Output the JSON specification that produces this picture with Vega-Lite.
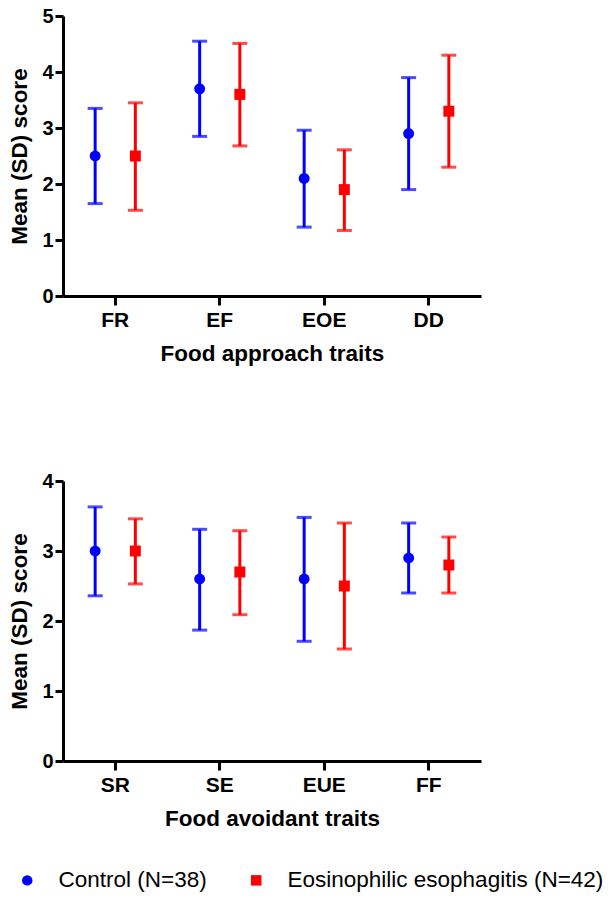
{
  "$schema": "https://vega.github.io/schema/vega-lite/v6.json",
  "background": "white",
  "padding": {"left": 8, "top": 6, "right": 5, "bottom": 5},
  "datasets": {
    "approach": [
      {"trait": "FR", "group": "Control (N=38)", "mean": 2.5, "lo": 1.65, "hi": 3.35},
      {"trait": "FR", "group": "Eosinophilic esophagitis (N=42)", "mean": 2.5, "lo": 1.53, "hi": 3.45},
      {"trait": "EF", "group": "Control (N=38)", "mean": 3.7, "lo": 2.85, "hi": 4.55},
      {"trait": "EF", "group": "Eosinophilic esophagitis (N=42)", "mean": 3.6, "lo": 2.68, "hi": 4.51},
      {"trait": "EOE", "group": "Control (N=38)", "mean": 2.1, "lo": 1.23, "hi": 2.96},
      {"trait": "EOE", "group": "Eosinophilic esophagitis (N=42)", "mean": 1.9, "lo": 1.17, "hi": 2.61},
      {"trait": "DD", "group": "Control (N=38)", "mean": 2.9, "lo": 1.9, "hi": 3.9},
      {"trait": "DD", "group": "Eosinophilic esophagitis (N=42)", "mean": 3.3, "lo": 2.3, "hi": 4.3}
    ],
    "avoidant": [
      {"trait": "SR", "group": "Control (N=38)", "mean": 3.0, "lo": 2.36, "hi": 3.63},
      {"trait": "SR", "group": "Eosinophilic esophagitis (N=42)", "mean": 3.0, "lo": 2.53, "hi": 3.46},
      {"trait": "SE", "group": "Control (N=38)", "mean": 2.6, "lo": 1.87, "hi": 3.31},
      {"trait": "SE", "group": "Eosinophilic esophagitis (N=42)", "mean": 2.7, "lo": 2.09, "hi": 3.29},
      {"trait": "EUE", "group": "Control (N=38)", "mean": 2.6, "lo": 1.71, "hi": 3.48},
      {"trait": "EUE", "group": "Eosinophilic esophagitis (N=42)", "mean": 2.5, "lo": 1.6, "hi": 3.4},
      {"trait": "FF", "group": "Control (N=38)", "mean": 2.9, "lo": 2.4, "hi": 3.4},
      {"trait": "FF", "group": "Eosinophilic esophagitis (N=42)", "mean": 2.8, "lo": 2.4, "hi": 3.2}
    ]
  },
  "spacing": 106,
  "vconcat": [
    {
      "width": 418,
      "height": 280,
      "data": {"name": "approach"},
      "encoding": {
        "x": {"field": "trait", "type": "nominal", "sort": ["FR", "EF", "EOE", "DD"],
          "scale": {"paddingInner": 0, "paddingOuter": 0},
          "axis": {"title": "Food approach traits", "labelAngle": 0, "tickSize": 9, "labelFontSize": 21, "titleFontSize": 22.5, "labelPadding": 4, "titlePadding": 12}},
        "xOffset": {"field": "group", "type": "nominal", "sort": ["Control (N=38)", "Eosinophilic esophagitis (N=42)"], "scale": {"type": "point", "padding": 0.8}},
        "color": {"field": "group", "type": "nominal",
          "scale": {"domain": ["Control (N=38)", "Eosinophilic esophagitis (N=42)"], "range": ["#0000ff", "#ff0000"]}}
      },
      "layer": [
        {"mark": {"type": "rule", "strokeWidth": 3},
         "encoding": {"y": {"field": "lo", "type": "quantitative", "scale": {"domain": [0, 5]},
           "axis": {"title": "Mean (SD) score", "values": [0, 1, 2, 3, 4, 5], "format": "d", "tickSize": 8, "labelFontSize": 20, "titleFontSize": 22.5, "labelPadding": 2, "titlePadding": 10}},
           "y2": {"field": "hi"}}},
        {"mark": {"type": "tick", "thickness": 3, "size": 15},
         "encoding": {"y": {"field": "lo", "type": "quantitative"}}},
        {"mark": {"type": "tick", "thickness": 3, "size": 15},
         "encoding": {"y": {"field": "hi", "type": "quantitative"}}},
        {"mark": {"type": "point", "filled": true, "size": 120, "opacity": 1},
         "encoding": {"y": {"field": "mean", "type": "quantitative"},
           "shape": {"field": "group", "type": "nominal", "scale": {"domain": ["Control (N=38)", "Eosinophilic esophagitis (N=42)"], "range": ["circle", "square"]}}}}
      ]
    },
    {
      "width": 418,
      "height": 280,
      "data": {"name": "avoidant"},
      "encoding": {
        "x": {"field": "trait", "type": "nominal", "sort": ["SR", "SE", "EUE", "FF"],
          "scale": {"paddingInner": 0, "paddingOuter": 0},
          "axis": {"title": "Food avoidant traits", "labelAngle": 0, "tickSize": 9, "labelFontSize": 21, "titleFontSize": 22.5, "labelPadding": 4, "titlePadding": 12}},
        "xOffset": {"field": "group", "type": "nominal", "sort": ["Control (N=38)", "Eosinophilic esophagitis (N=42)"], "scale": {"type": "point", "padding": 0.8}},
        "color": {"field": "group", "type": "nominal",
          "scale": {"domain": ["Control (N=38)", "Eosinophilic esophagitis (N=42)"], "range": ["#0000ff", "#ff0000"]}}
      },
      "layer": [
        {"mark": {"type": "rule", "strokeWidth": 3},
         "encoding": {"y": {"field": "lo", "type": "quantitative", "scale": {"domain": [0, 4]},
           "axis": {"title": "Mean (SD) score", "values": [0, 1, 2, 3, 4], "format": "d", "tickSize": 8, "labelFontSize": 20, "titleFontSize": 22.5, "labelPadding": 2, "titlePadding": 10}},
           "y2": {"field": "hi"}}},
        {"mark": {"type": "tick", "thickness": 3, "size": 15},
         "encoding": {"y": {"field": "lo", "type": "quantitative"}}},
        {"mark": {"type": "tick", "thickness": 3, "size": 15},
         "encoding": {"y": {"field": "hi", "type": "quantitative"}}},
        {"mark": {"type": "point", "filled": true, "size": 120, "opacity": 1},
         "encoding": {"y": {"field": "mean", "type": "quantitative"},
           "shape": {"field": "group", "type": "nominal", "scale": {"domain": ["Control (N=38)", "Eosinophilic esophagitis (N=42)"], "range": ["circle", "square"]}}}}
      ]
    }
  ],
  "resolve": {"scale": {"color": "shared", "shape": "shared"}, "legend": {"color": "shared", "shape": "shared"}},
  "config": {
    "font": "Liberation Sans",
    "view": {"stroke": null},
    "axis": {"grid": false, "domainColor": "black", "domainWidth": 3, "tickColor": "black", "tickWidth": 3,
      "labelColor": "black", "titleColor": "black", "labelFontWeight": "bold", "titleFontWeight": "bold"},
    "legend": {"orient": "none", "legendX": -47, "legendY": 853, "direction": "horizontal", "title": null, "labelFontSize": 22.5, "labelColor": "black", "labelLimit": 0,
      "symbolSize": 110, "symbolOpacity": 1, "labelOffset": 20, "columnPadding": 38, "symbolStrokeWidth": 0}
  }
}
